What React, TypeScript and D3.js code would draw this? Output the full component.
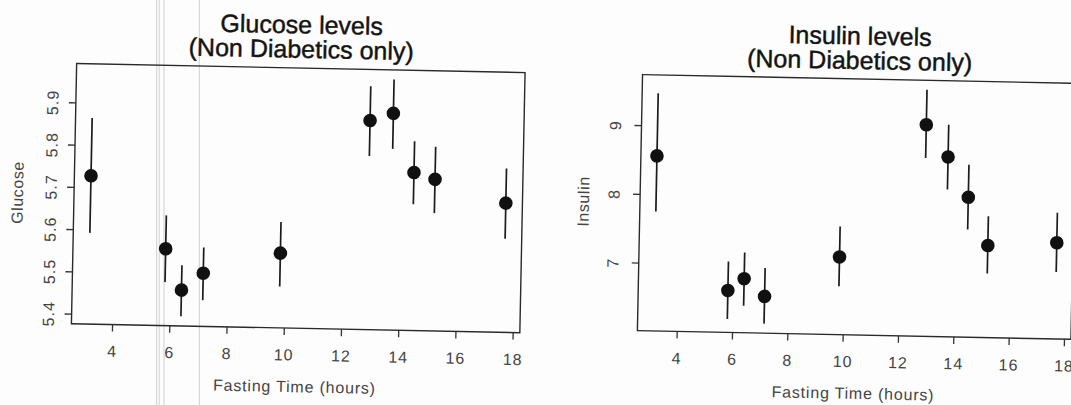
import React, { useRef, useEffect } from 'react';
import * as d3 from 'd3';

// fasting time (hours) of each group
const fastingHours = [3.16, 5.82, 6.4, 7.15, 9.83, 12.87, 13.68, 14.44, 15.18, 17.67];

// glucose: mean and error bar ends
const glucoseMean = [5.727, 5.558, 5.461, 5.502, 5.553, 5.871, 5.889, 5.75, 5.735, 5.682];
const glucoseLow = [5.592, 5.479, 5.399, 5.438, 5.474, 5.787, 5.805, 5.675, 5.655, 5.598];
const glucoseHigh = [5.864, 5.637, 5.52, 5.563, 5.627, 5.952, 5.969, 5.824, 5.812, 5.764];

// insulin: mean and error bar ends
const insulinMean = [8.557, 6.621, 6.797, 6.545, 7.141, 9.089, 8.627, 8.046, 7.35, 7.411];
const insulinLow = [7.748, 6.206, 6.404, 6.149, 6.714, 8.605, 8.152, 7.577, 6.943, 6.984];
const insulinHigh = [9.468, 7.042, 7.179, 6.958, 7.585, 9.597, 9.096, 8.521, 7.776, 7.847];

const xTicks = [4, 6, 8, 10, 12, 14, 16, 18];
const glucoseTicks = [5.4, 5.5, 5.6, 5.7, 5.8, 5.9];
const insulinTicks = [7, 8, 9];

// faint vertical streaks left by the scanner
const scanLines = [156.7, 159.2, 164, 199.3];

const FONT = '"Liberation Sans", Arial, sans-serif';

// R style axis limits: data range widened by 4% on each side
const rLimits = (lo: number, hi: number) => {
  const pad = (hi - lo) * 0.04;
  return [lo - pad, hi + pad];
};

const App = () => {
  const svgRef = useRef<SVGSVGElement | null>(null);
  const width = 1071;
  const height = 405;

  useEffect(() => {
    const svg = d3.select(svgRef.current);
    svg.selectAll('*').remove();

    svg.append('rect').attr('width', width).attr('height', height).attr('fill', '#fdfdfd');

    svg.selectAll('line.scan')
      .data(scanLines)
      .enter()
      .append('line')
      .attr('class', 'scan')
      .attr('x1', d => d)
      .attr('x2', d => d)
      .attr('y1', 0)
      .attr('y2', height)
      .attr('stroke', '#cfcfcf')
      .attr('stroke-width', 1);

    // the scanned page is slightly tilted
    const root = svg.append('g').attr('transform', 'rotate(1.15 535 200)');

    const panels = [
      {
        title: 'Glucose levels',
        yLabel: 'Glucose',
        mean: glucoseMean,
        low: glucoseLow,
        high: glucoseHigh,
        ticks: glucoseTicks,
        fmt: d3.format('.1f'),
        box: { left: 74, right: 522.5, top: 72.8, bottom: 333 },
        yTickGap: 23,
      },
      {
        title: 'Insulin levels',
        yLabel: 'Insulin',
        mean: insulinMean,
        low: insulinLow,
        high: insulinHigh,
        ticks: insulinTicks,
        fmt: d3.format('d'),
        box: { left: 640, right: 1073.6, top: 72.5, bottom: 328.5 },
        yTickGap: 26,
      },
    ];

    panels.forEach(p => {
      const { box } = p;
      const x = d3.scaleLinear()
        .domain(rLimits(d3.min(fastingHours)!, d3.max(fastingHours)!))
        .range([box.left, box.right]);
      const y = d3.scaleLinear()
        .domain(rLimits(d3.min(p.low)!, d3.max(p.high)!))
        .range([box.bottom, box.top]);

      const g = root.append('g');
      const cx = (box.left + box.right) / 2;
      const cy = (box.top + box.bottom) / 2;

      // title, two lines (scan makes it look heavy)
      [p.title, '(Non Diabetics only)'].forEach((line, i) => {
        g.append('text')
          .attr('x', cx)
          .attr('y', 38 + i * 24.5)
          .attr('text-anchor', 'middle')
          .attr('font-family', FONT)
          .attr('font-size', 25)
          .attr('fill', '#141414')
          .attr('stroke', '#141414')
          .attr('stroke-width', 0.45)
          .text(line);
      });

      // x axis
      const xAxis = g.append('g')
        .attr('transform', `translate(0,${box.bottom})`)
        .call(d3.axisBottom(x).tickValues(xTicks).tickFormat(d3.format('d')).tickSize(7).tickSizeOuter(0).tickPadding(14));
      xAxis.select('.domain').remove();
      xAxis.selectAll('line').attr('stroke', '#333').attr('stroke-width', 1.3);
      xAxis.selectAll('text')
        .attr('font-family', FONT)
        .attr('font-size', 16)
        .attr('letter-spacing', 1)
        .attr('fill', '#444');

      // y axis with labels turned like R's las = 0
      const yAxis = g.append('g')
        .attr('transform', `translate(${box.left},0)`)
        .call(d3.axisLeft(y).tickValues(p.ticks).tickFormat(p.fmt as any).tickSize(7).tickSizeOuter(0));
      yAxis.select('.domain').remove();
      yAxis.selectAll('line').attr('stroke', '#333').attr('stroke-width', 1.3);
      yAxis.selectAll('text')
        .attr('x', null)
        .attr('dy', null)
        .attr('transform', `translate(${-p.yTickGap},0) rotate(-90)`)
        .attr('text-anchor', 'middle')
        .attr('dominant-baseline', 'central')
        .attr('font-family', FONT)
        .attr('font-size', 16)
        .attr('letter-spacing', 1)
        .attr('fill', '#444');

      // frame
      g.append('rect')
        .attr('x', box.left)
        .attr('y', box.top)
        .attr('width', box.right - box.left)
        .attr('height', box.bottom - box.top)
        .attr('fill', 'none')
        .attr('stroke', '#2a2a2a')
        .attr('stroke-width', 1.4);

      // axis titles
      g.append('text')
        .attr('x', cx)
        .attr('y', box.bottom + 64)
        .attr('text-anchor', 'middle')
        .attr('font-family', FONT)
        .attr('font-size', 16)
        .attr('letter-spacing', 0.8)
        .attr('fill', '#444')
        .text('Fasting Time (hours)');
      g.append('text')
        .attr('transform', `translate(${box.left - 56.5},${cy}) rotate(-90)`)
        .attr('text-anchor', 'middle')
        .attr('dominant-baseline', 'central')
        .attr('font-family', FONT)
        .attr('font-size', 16)
        .attr('letter-spacing', 0.6)
        .attr('fill', '#444')
        .text(p.yLabel);

      // error bars
      g.selectAll('line.err')
        .data(fastingHours)
        .enter()
        .append('line')
        .attr('class', 'err')
        .attr('x1', d => x(d))
        .attr('x2', d => x(d))
        .attr('y1', (_, i) => y(p.low[i]))
        .attr('y2', (_, i) => y(p.high[i]))
        .attr('stroke', '#1c1c1c')
        .attr('stroke-width', 1.7);

      // means
      g.selectAll('circle.pt')
        .data(fastingHours)
        .enter()
        .append('circle')
        .attr('class', 'pt')
        .attr('cx', d => x(d))
        .attr('cy', (_, i) => y(p.mean[i]))
        .attr('r', 6.8)
        .attr('fill', '#111');
    });
  }, []);

  return (
    <svg
      ref={svgRef}
      width={width}
      height={height}
      style={{ position: 'absolute', left: 0, top: 0, display: 'block' }}
    />
  );
};

export default App;
